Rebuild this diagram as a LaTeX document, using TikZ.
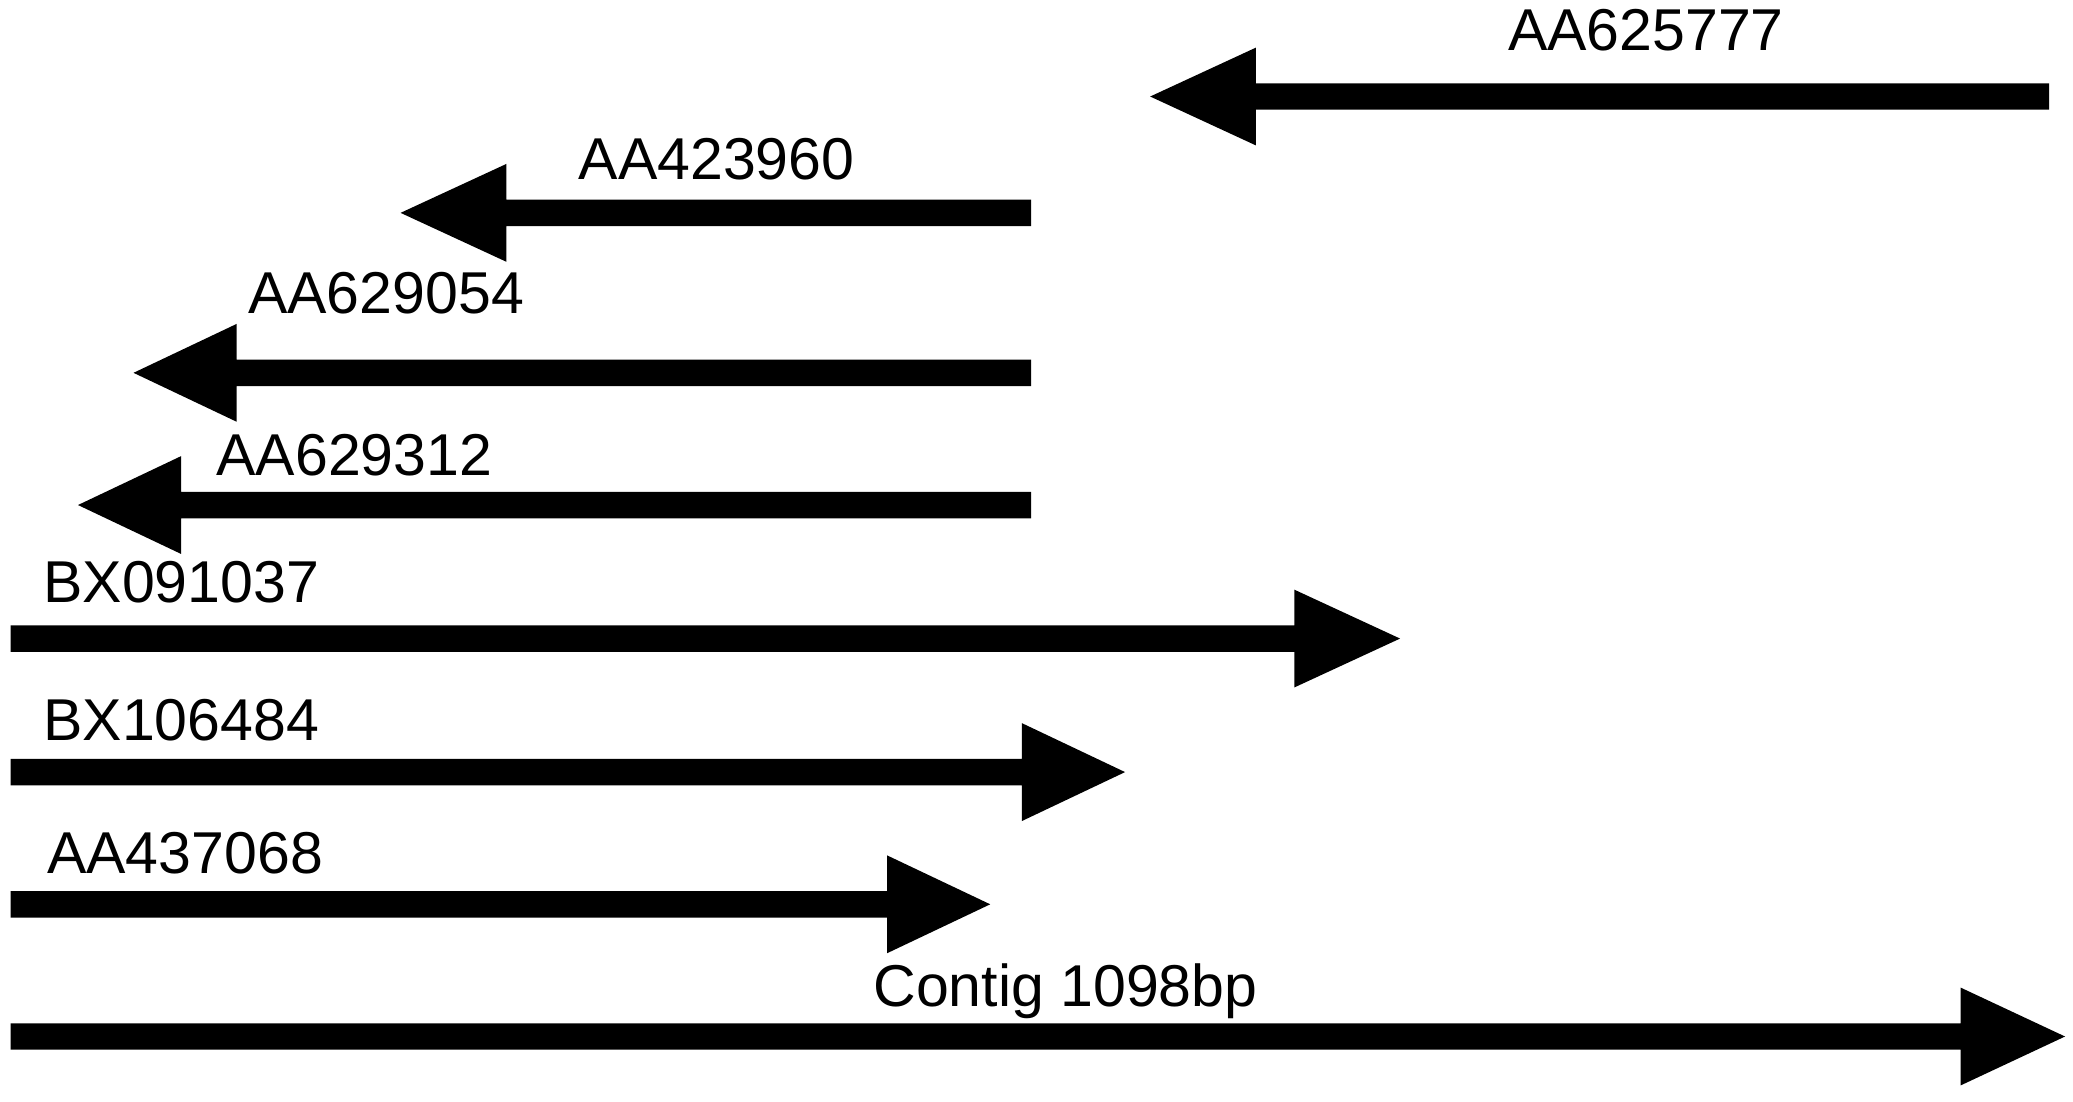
\documentclass[tikz,border=0pt]{standalone}
\usepackage{fontspec}
\setmainfont{Liberation Sans}
\usetikzlibrary{calc}
\tikzset{
  genefill/.style={fill=black},
  lbl/.style={anchor=base west, inner sep=0pt, font=\fontsize{12.7}{15}\selectfont}
}
% #1 tail coordinate, #2 tip coordinate, #3 x offset of head base from tip
\newcommand\genearr[3]{%
  \fill[genefill] ($(#1)+(0,-10)$) -- ($(#2)+(#3,-10)$) -- ($(#2)+(#3,-37)$) -- (#2)
    -- ($(#2)+(#3,37)$) -- ($(#2)+(#3,10)$) -- ($(#1)+(0,10)$) -- cycle;}
\begin{document}
\begin{tikzpicture}[x=0.01cm,y=-0.01cm]
\useasboundingbox[fill=white] (0,0) rectangle (1568,833);
% arrows: tail and tip coordinates
\coordinate (a1s) at (1550,73);  \coordinate (a1e) at (870,73);
\coordinate (a2s) at (780,161);  \coordinate (a2e) at (303,161);
\coordinate (a3s) at (780,282);  \coordinate (a3e) at (101,282);
\coordinate (a4s) at (780,382);  \coordinate (a4e) at (59,382);
\coordinate (a5s) at (8,483);    \coordinate (a5e) at (1059,483);
\coordinate (a6s) at (8,584);    \coordinate (a6e) at (851,584);
\coordinate (a7s) at (8,684);    \coordinate (a7e) at (749,684);
\coordinate (a8s) at (8,784);    \coordinate (a8e) at (1562,784);
\genearr{a1s}{a1e}{80}
\genearr{a2s}{a2e}{80}
\genearr{a3s}{a3e}{78}
\genearr{a4s}{a4e}{78}
\genearr{a5s}{a5e}{-80}
\genearr{a6s}{a6e}{-78}
\genearr{a7s}{a7e}{-78}
\genearr{a8s}{a8e}{-79}
% labels
\node[lbl] (l1) at (1140,38) {AA625777};
\node[lbl] (l2) at (437,136) {AA423960};
\node[lbl] (l3) at (187,237) {AA629054};
\node[lbl] (l4) at (163,360) {AA629312};
\node[lbl] (l5) at (32,456) {BX091037};
\node[lbl] (l6) at (32,560) {BX106484};
\node[lbl] (l7) at (35,661) {AA437068};
\node[lbl] (l8) at (660,761) {Contig 1098bp};
\end{tikzpicture}
\end{document}
